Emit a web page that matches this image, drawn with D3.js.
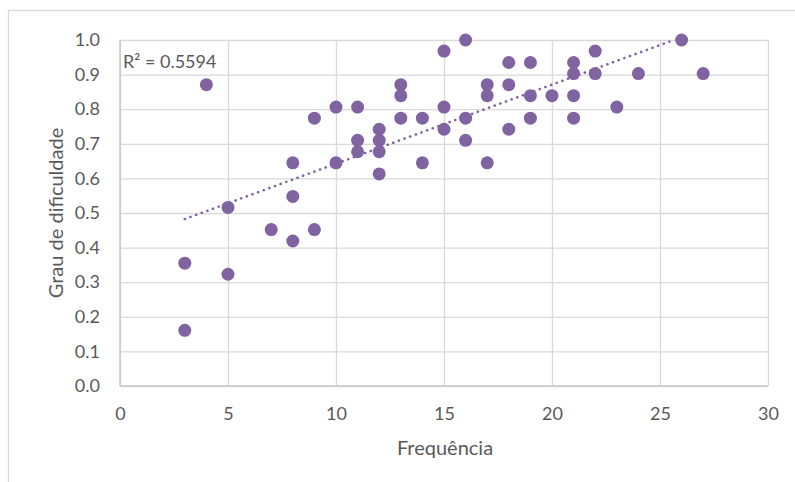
<!DOCTYPE html>
<html>
<head>
<meta charset="utf-8">
<script src="https://cdn.jsdelivr.net/npm/d3@7"></script>
<style>
  body { margin: 0; background: #fff; }
  svg { display: block; font-family: Lato, "Open Sans", sans-serif; }
</style>
</head>
<body>
<div id="chart"></div>
<script>
// frequency (x) and difficulty (y) pairs
var frequencia = [3, 3, 4, 5, 5, 7, 8, 8, 8, 9, 9, 10, 10, 11, 11, 11,
                  12, 12, 12, 12, 13, 13, 13, 14, 14, 15, 15, 15, 16, 16, 16,
                  17, 17, 17, 18, 18, 18, 19, 19, 19, 20, 21, 21, 21, 21,
                  22, 22, 23, 24, 26, 27];
var grau = [0.355, 0.161, 0.871, 0.516, 0.323, 0.452, 0.645, 0.548, 0.419, 0.774, 0.452, 0.806, 0.645, 0.806, 0.710, 0.677,
            0.742, 0.710, 0.677, 0.613, 0.871, 0.839, 0.774, 0.774, 0.645, 0.968, 0.806, 0.742, 1.000, 0.774, 0.710,
            0.871, 0.839, 0.645, 0.935, 0.871, 0.742, 0.935, 0.839, 0.774, 0.839, 0.935, 0.903, 0.839, 0.774,
            0.968, 0.903, 0.806, 0.903, 1.000, 0.903];
var xTicks = [0, 5, 10, 15, 20, 25, 30];
var yTicks = [0, 0.1, 0.2, 0.3, 0.4, 0.5, 0.6, 0.7, 0.8, 0.9, 1.0];
var r2Label = 'R² = 0.5594';

var width = 795, height = 482;
var margin = {top: 40, right: 27, bottom: 96, left: 120};
var w = width - margin.left - margin.right,
    h = height - margin.top - margin.bottom;

var svg = d3.select('#chart').append('svg')
    .attr('width', width)
    .attr('height', height);

// outer chart border (right/bottom run off the picture)
svg.append('rect')
    .attr('x', 8.5).attr('y', 10.5)
    .attr('width', 800).attr('height', 500)
    .attr('fill', 'none')
    .attr('stroke', '#d9d9d9')
    .attr('stroke-width', 1.3);

var g = svg.append('g')
    .attr('transform', 'translate(' + margin.left + ',' + margin.top + ')');

var x = d3.scaleLinear().domain([0, 30]).range([0, w]);
var y = d3.scaleLinear().domain([0, 1]).range([h, 0]);

// gridlines
g.append('g')
    .attr('class', 'grid-y')
    .call(d3.axisLeft(y).tickValues(yTicks).tickSize(-w).tickFormat(''))
    .call(function(s) {
        s.select('.domain').remove();
        s.selectAll('line').attr('stroke', '#d9d9d9').attr('stroke-width', 1.3);
    });
g.append('g')
    .attr('class', 'grid-x')
    .attr('transform', 'translate(0,' + h + ')')
    .call(d3.axisBottom(x).tickValues(xTicks).tickSize(-h).tickFormat(''))
    .call(function(s) {
        s.select('.domain').remove();
        s.selectAll('line').attr('stroke', '#d9d9d9').attr('stroke-width', 1.3);
    });

// axis lines
g.append('line')
    .attr('x1', 0).attr('x2', 0).attr('y1', 0).attr('y2', h)
    .attr('stroke', '#c8c8c8').attr('stroke-width', 1.5);
g.append('line')
    .attr('x1', 0).attr('x2', w).attr('y1', h).attr('y2', h)
    .attr('stroke', '#c8c8c8').attr('stroke-width', 1.5);

// tick labels
g.append('g')
    .attr('transform', 'translate(0,' + h + ')')
    .call(d3.axisBottom(x).tickValues(xTicks).tickSize(0).tickPadding(21).tickFormat(d3.format('d')))
    .call(function(s) {
        s.select('.domain').remove();
        s.selectAll('text').attr('fill', '#595959').style('font-size', '18px')
            .style('font-family', 'Lato, "Open Sans", sans-serif');
    });
g.append('g')
    .call(d3.axisLeft(y).tickValues(yTicks).tickSize(0).tickPadding(20).tickFormat(d3.format('.1f')))
    .call(function(s) {
        s.select('.domain').remove();
        s.selectAll('text').attr('fill', '#595959').style('font-size', '18px')
            .style('font-family', 'Lato, "Open Sans", sans-serif');
    });

// points
var pts = frequencia.map(function(f, i) { return {x: f, y: grau[i]}; });

// linear trendline, clipped to the plot area
var mx = d3.mean(pts, function(d) { return d.x; }),
    my = d3.mean(pts, function(d) { return d.y; });
var sxy = d3.sum(pts, function(d) { return (d.x - mx) * (d.y - my); }),
    sxx = d3.sum(pts, function(d) { return (d.x - mx) * (d.x - mx); });
var slope = sxy / sxx, intercept = my - slope * mx;
var x0 = d3.min(frequencia), x1 = d3.max(frequencia);
if (slope * x1 + intercept > 1) x1 = (1 - intercept) / slope;

g.append('line')
    .attr('x1', x(x0)).attr('y1', y(slope * x0 + intercept))
    .attr('x2', x(x1)).attr('y2', y(slope * x1 + intercept))
    .attr('stroke', '#8064a2')
    .attr('stroke-width', 2.6)
    .attr('stroke-linecap', 'round')
    .attr('stroke-dasharray', '0.1,5.9');

g.selectAll('circle')
    .data(pts)
    .enter().append('circle')
    .attr('cx', function(d) { return x(d.x); })
    .attr('cy', function(d) { return y(d.y); })
    .attr('r', 6.5)
    .attr('fill', '#8064a2');

// R² label
svg.append('text')
    .attr('x', 123).attr('y', 68)
    .attr('fill', '#595959')
    .style('font-size', '18px')
    .text(r2Label);

// axis titles
svg.append('text')
    .attr('x', 445).attr('y', 455)
    .attr('text-anchor', 'middle')
    .attr('fill', '#595959')
    .style('font-size', '20px')
    .text('Frequência');
svg.append('text')
    .attr('transform', 'translate(63,' + (margin.top + h / 2) + ') rotate(-90)')
    .attr('text-anchor', 'middle')
    .attr('fill', '#595959')
    .style('font-size', '20px')
    .text('Grau de dificuldade');
</script>
</body>
</html>
